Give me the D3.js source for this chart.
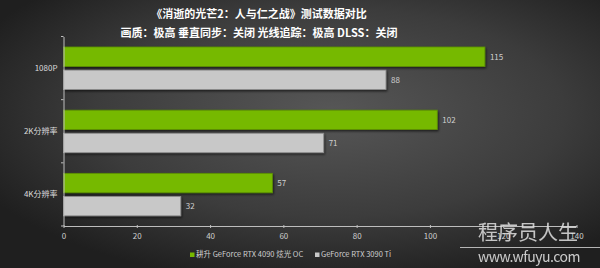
<!DOCTYPE html>
<html>
<head>
<meta charset="utf-8">
<script src="https://cdn.jsdelivr.net/npm/d3@7/dist/d3.min.js"></script>
<style>
  html, body { margin: 0; padding: 0; background: #2a2a2a; }
  svg { display: block; }
  text { font-family: "Noto Sans CJK SC", "Noto Sans", sans-serif; }
</style>
</head>
<body>
<svg id="chart" width="600" height="268"></svg>
<script>
// chart data
var categories = ['1080P', '2K分辨率', '4K分辨率'];
var seriesNames = ['耕升 GeForce RTX 4090 炫光 OC', 'GeForce RTX 3090 Ti'];
var rtx4090 = [115, 102, 57];
var rtx3090ti = [88, 71, 32];
var xTicks = [0, 20, 40, 60, 80, 100, 120, 140];
var titleLines = ['《消逝的光芒2：人与仁之战》测试数据对比', '画质：极高 垂直同步：关闭 光线追踪：极高 DLSS：关闭'];

var W = 600, H = 268;
var svg = d3.select('#chart');

// background
var defs = svg.append('defs');
var grad = defs.append('radialGradient').attr('id', 'bg')
    .attr('cx', '0.55').attr('cy', '0.42').attr('r', '0.65');
grad.append('stop').attr('offset', '0').attr('stop-color', '#575757');
grad.append('stop').attr('offset', '0.6').attr('stop-color', '#3c3c3c');
grad.append('stop').attr('offset', '1').attr('stop-color', '#1f1f1f');
var shadow = defs.append('filter').attr('id', 'shd').attr('x', '-5%').attr('y', '-20%').attr('width', '110%').attr('height', '150%');
shadow.append('feDropShadow').attr('dx', 1).attr('dy', 1.5).attr('stdDeviation', 0.8)
    .attr('flood-color', '#000').attr('flood-opacity', 0.6);

svg.append('rect').attr('width', W).attr('height', H).attr('fill', 'url(#bg)');

// titles
svg.selectAll('.title').data(titleLines).enter().append('text')
    .attr('class', 'title')
    .attr('x', 259).attr('y', function(d, i) { return 17.5 + i * 19; })
    .attr('text-anchor', 'middle')
    .attr('fill', '#fff').attr('font-weight', 'bold').attr('font-size', '11px')
    .text(function(d) { return d; });

var plotL = 63.5, plotR = 576.5, plotT = 36.5, plotB = 226;

var x = d3.scaleLinear().domain([0, 140]).range([plotL, plotR]);
var y = d3.scaleBand().domain(categories).range([plotT, plotB]);
var ySub = d3.scaleBand().domain([0, 1]).range([10.5, 53]).paddingInner(0.16);

var colors = ['#76b900', '#c8c8c8'];
var strokes = ['#5c9000', '#8c8c8c'];

var rows = categories.map(function(c, i) {
  return [{ cat: c, s: 0, v: rtx4090[i] }, { cat: c, s: 1, v: rtx3090ti[i] }];
});
var flat = [].concat.apply([], rows);

// bars
var bars = svg.append('g').selectAll('g.bar').data(flat).enter().append('g').attr('class', 'bar');
bars.append('rect')
    .attr('x', x(0))
    .attr('y', function(d) { return y(d.cat) + ySub(d.s); })
    .attr('width', function(d) { return x(d.v) - x(0); })
    .attr('height', ySub.bandwidth())
    .attr('fill', function(d) { return colors[d.s]; })
    .attr('stroke', function(d) { return strokes[d.s]; })
    .attr('stroke-width', 0.8)
    .attr('filter', 'url(#shd)');
bars.append('text')
    .attr('x', function(d) { return x(d.v) + 5; })
    .attr('y', function(d) { return y(d.cat) + ySub(d.s) + ySub.bandwidth() / 2 + 3; })
    .attr('fill', '#d0d0d0').attr('font-size', '8px')
    .text(function(d) { return d.v; });

// axes
var axisColor = '#bdbdbd';
var xAxis = svg.append('g').attr('transform', 'translate(0,' + plotB + ')')
    .call(d3.axisBottom(x).tickValues(xTicks).tickSize(3).tickSizeOuter(0));
xAxis.select('.domain').attr('stroke', axisColor);
xAxis.selectAll('.tick line').attr('stroke', axisColor).attr('y1', -1).attr('y2', 2);
xAxis.selectAll('.tick text').attr('fill', '#cfcfcf').attr('font-size', '8px').attr('dy', '0.9em');

var yAxis = svg.append('g').attr('transform', 'translate(' + plotL + ',0)')
    .call(d3.axisLeft(y).tickSize(0).tickPadding(6));
yAxis.select('.domain').attr('stroke', axisColor);
yAxis.selectAll('.tick text').attr('fill', '#dcdcdc').attr('font-size', '8px');
// band separators
svg.append('g').selectAll('line').data(categories.concat(['end'])).enter().append('line')
    .attr('x1', plotL - 2.5).attr('x2', plotL)
    .attr('y1', function(d, i) { return plotT + i * y.step(); })
    .attr('y2', function(d, i) { return plotT + i * y.step(); })
    .attr('stroke', axisColor);

// legend
var legendX = [190, 315];
var lg = svg.append('g').selectAll('g').data(seriesNames).enter().append('g')
    .attr('transform', function(d, i) { return 'translate(' + legendX[i] + ',257)'; });
lg.append('rect').attr('x', 0).attr('y', -4.5).attr('width', 4.5).attr('height', 4.5)
    .attr('fill', function(d, i) { return colors[i]; });
lg.append('text').attr('x', 6).attr('y', 0)
    .attr('fill', '#cfcfcf').attr('font-size', '7.5px')
    .text(function(d) { return d; });

// watermark
var wm = svg.append('g').attr('opacity', 0.85);
wm.append('text').attr('x', 528).attr('y', 240).attr('text-anchor', 'middle')
    .attr('fill', '#e0e0e0').attr('font-size', '20px').text('程序员人生');
wm.append('line').attr('x1', 460).attr('x2', 600).attr('y1', 247.5).attr('y2', 247.5)
    .attr('stroke', '#cfcfcf').attr('stroke-width', 1.2);
wm.append('text').attr('x', 529).attr('y', 262).attr('text-anchor', 'middle')
    .attr('fill', '#e8e8e8').attr('font-size', '14px').attr('letter-spacing', '-0.5px')
    .attr('font-family', 'Liberation Sans, sans-serif').text('www.wfuyu.com');
</script>
</body>
</html>
